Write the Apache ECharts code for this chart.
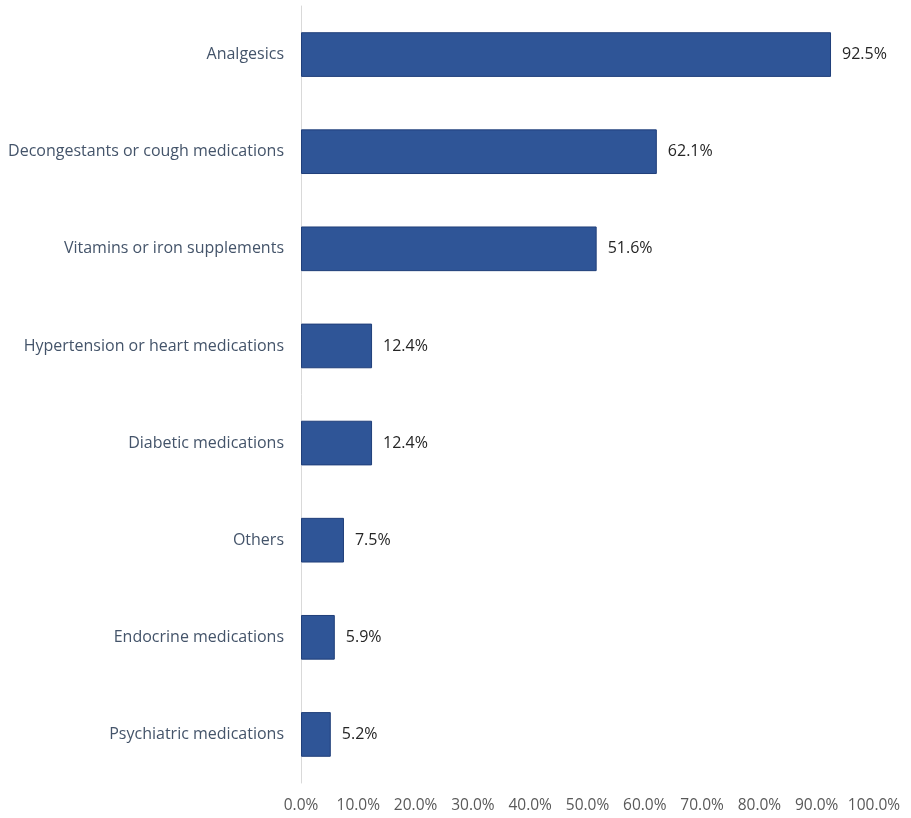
<!DOCTYPE html>
<html><head><meta charset="utf-8">
<script src="https://cdn.jsdelivr.net/npm/echarts@6/dist/echarts.min.js"></script>
<style>html,body{margin:0;padding:0;background:#fff}#c{width:911px;height:818px}</style>
</head><body><div id="c"></div>
<script>
const categories = ["Analgesics","Decongestants or cough medications","Vitamins or iron supplements","Hypertension or heart medications","Diabetic medications","Others","Endocrine medications","Psychiatric medications"];
const values = [92.5, 62.1, 51.6, 12.4, 12.4, 7.5, 5.9, 5.2];
const xTicks = [0,10,20,30,40,50,60,70,80,90,100];

const chart = echarts.init(document.getElementById('c'));
chart.setOption({
  animation:false,
  grid:{left:301,right:37,top:6,bottom:35,containLabel:false},
  xAxis:{type:'value',min:xTicks[0],max:xTicks[xTicks.length-1],interval:xTicks[1]-xTicks[0],
    axisLine:{show:false},axisTick:{show:false},splitLine:{show:false},
    axisLabel:{formatter:v=>v.toFixed(1)+'%',color:'#595959',fontFamily:'Open Sans',fontSize:15.5,margin:15}},
  yAxis:{type:'category',inverse:true,data:categories,
    axisLine:{show:true,lineStyle:{color:'#d9d9d9',width:1}},axisTick:{show:false},
    axisLabel:{color:'#44546A',fontFamily:'Open Sans',fontSize:16,margin:17}},
  series:[{type:'bar',data:values,barCategoryGap:'54%',
    itemStyle:{color:'#2F5597',borderColor:'#203F7A',borderWidth:1},
    label:{show:true,position:'right',distance:11,formatter:p=>p.value.toFixed(1)+'%',color:'#262626',fontFamily:'Open Sans',fontSize:16}}]
});
</script></body></html>
